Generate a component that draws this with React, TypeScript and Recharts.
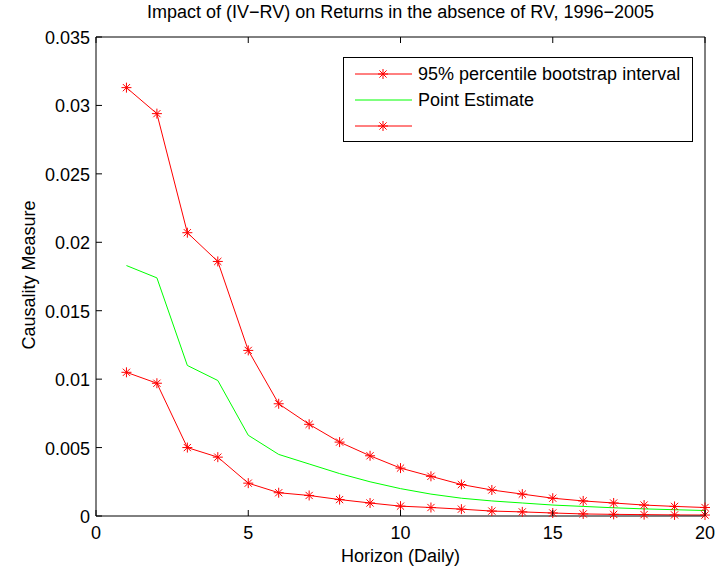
import React from "react";
import { LineChart, Line, XAxis, YAxis } from "recharts";

const horizons = [1, 2, 3, 4, 5, 6, 7, 8, 9, 10, 11, 12, 13, 14, 15, 16, 17, 18, 19, 20];

const upperBound = [
  0.0313, 0.0294, 0.0207, 0.0186, 0.0121, 0.0082, 0.0067, 0.0054, 0.0044, 0.0035,
  0.0029, 0.0023, 0.0019, 0.0016, 0.0013, 0.0011, 0.00095, 0.0008, 0.0007, 0.00062,
];

const pointEstimate = [
  0.0183, 0.0174, 0.011, 0.0099, 0.0059, 0.0045, 0.0038, 0.0031, 0.0025, 0.002,
  0.0016, 0.0013, 0.0011, 0.00095, 0.0008, 0.0007, 0.0006, 0.00052, 0.00046, 0.0004,
];

const lowerBound = [
  0.0105, 0.0097, 0.005, 0.0043, 0.0024, 0.0017, 0.0015, 0.0012, 0.00095, 0.00072,
  0.00062, 0.0005, 0.00036, 0.0003, 0.00022, 0.00015, 0.00012, 0.0001, 0.00008, 0.00007,
];

const xTicks = [0, 5, 10, 15, 20];
const yTicks = [0, 0.005, 0.01, 0.015, 0.02, 0.025, 0.03, 0.035];

const legendLabels = ["95% percentile bootstrap interval", "Point Estimate", ""];

const data = horizons.map((h, i) => ({
  h,
  upper: upperBound[i],
  point: pointEstimate[i],
  lower: lowerBound[i],
}));

const FONT = '"Liberation Sans", Arial, Helvetica, sans-serif';
const RED = "#ff0000";
const GREEN = "#00ff00";
const FS = 18;

function Star({ cx, cy, r = 5 }: { cx: number; cy: number; r?: number }) {
  const d = r * 0.72;
  return (
    <g stroke={RED} strokeWidth={1}>
      <line x1={cx - r} y1={cy} x2={cx + r} y2={cy} />
      <line x1={cx} y1={cy - r} x2={cx} y2={cy + r} />
      <line x1={cx - d} y1={cy - d} x2={cx + d} y2={cy + d} />
      <line x1={cx - d} y1={cy + d} x2={cx + d} y2={cy - d} />
    </g>
  );
}

const starDot = (props: any) => (
  <Star key={`s-${props.dataKey}-${props.index}`} cx={props.cx} cy={props.cy} />
);

const fmt = (v: number) => (v === 0 ? "0" : String(+v.toFixed(3)));

const BottomTick = (props: any) => {
  const { x, y, payload } = props;
  return (
    <g>
      <line x1={x} y1={y} x2={x} y2={y - 6} stroke="#000" />
      <text x={x} y={y + 23} textAnchor="middle" fontSize={FS} fontFamily={FONT} fill="#000">
        {payload.value}
      </text>
    </g>
  );
};

const TopTick = (props: any) => {
  const { x, y } = props;
  return <line x1={x} y1={y} x2={x} y2={y + 6} stroke="#000" />;
};

const LeftTick = (props: any) => {
  const { x, y, payload } = props;
  return (
    <g>
      <line x1={x} y1={y} x2={x + 6} y2={y} stroke="#000" />
      <text x={x - 6} y={y + 7} textAnchor="end" fontSize={FS} fontFamily={FONT} fill="#000">
        {fmt(payload.value)}
      </text>
    </g>
  );
};

const RightTick = (props: any) => {
  const { x, y } = props;
  return <line x1={x} y1={y} x2={x - 6} y2={y} stroke="#000" />;
};

export default function App() {
  return (
    <div style={{ position: "absolute", left: 0, top: 0, width: 723, height: 571, background: "#fff", fontFamily: FONT }}>
      <LineChart width={723} height={571} data={data} margin={{ top: 0, right: 0, bottom: 0, left: 0 }}>
        <XAxis
          xAxisId="b"
          dataKey="h"
          type="number"
          domain={[0, 20]}
          ticks={xTicks}
          orientation="bottom"
          height={55}
          tickSize={0}
          tickMargin={0}
          tickLine={false}
          axisLine={{ stroke: "#000" }}
          tick={BottomTick}
          interval={0}
        />
        <XAxis
          xAxisId="t"
          dataKey="h"
          type="number"
          domain={[0, 20]}
          ticks={xTicks}
          orientation="top"
          height={37}
          tickSize={0}
          tickMargin={0}
          tickLine={false}
          axisLine={{ stroke: "#000" }}
          tick={TopTick}
          interval={0}
        />
        <YAxis
          yAxisId="l"
          type="number"
          domain={[0, 0.035]}
          ticks={yTicks}
          orientation="left"
          width={96}
          tickSize={0}
          tickMargin={0}
          tickLine={false}
          axisLine={{ stroke: "#000" }}
          tick={LeftTick}
          interval={0}
        />
        <YAxis
          yAxisId="r"
          type="number"
          domain={[0, 0.035]}
          ticks={yTicks}
          orientation="right"
          width={18}
          tickSize={0}
          tickMargin={0}
          tickLine={false}
          axisLine={{ stroke: "#000" }}
          tick={RightTick}
          interval={0}
        />
        <Line
          xAxisId="b"
          yAxisId="l"
          dataKey="upper"
          stroke={RED}
          strokeWidth={1}
          dot={starDot}
          isAnimationActive={false}
        />
        <Line
          xAxisId="b"
          yAxisId="l"
          dataKey="point"
          stroke={GREEN}
          strokeWidth={1}
          dot={false}
          isAnimationActive={false}
        />
        <Line
          xAxisId="b"
          yAxisId="l"
          dataKey="lower"
          stroke={RED}
          strokeWidth={1}
          dot={starDot}
          isAnimationActive={false}
        />
      </LineChart>

      <div style={{ position: "absolute", left: 0, width: 801, top: 2, textAlign: "center", fontSize: FS, color: "#000", whiteSpace: "nowrap" }}>
        Impact of (IV−RV) on Returns in the absence of RV, 1996−2005
      </div>
      <div style={{ position: "absolute", left: 0, width: 801, top: 546, textAlign: "center", fontSize: FS, color: "#000" }}>
        Horizon (Daily)
      </div>
      <div
        style={{
          position: "absolute",
          left: 29,
          top: 275,
          transform: "translate(-50%, -50%) rotate(-90deg)",
          fontSize: FS,
          color: "#000",
          whiteSpace: "nowrap",
        }}
      >
        Causality Measure
      </div>

      <div
        style={{
          position: "absolute",
          left: 343,
          top: 57,
          width: 350,
          height: 85,
          border: "1px solid #000",
          background: "#fff",
          boxSizing: "border-box",
        }}
      >
        {legendLabels.map((label, i) => (
          <div key={i} style={{ position: "absolute", left: 0, top: 5 + i * 26, height: 22, display: "flex", alignItems: "center" }}>
            <svg width={70} height={22} style={{ display: "block" }}>
              <line x1={11} y1={11} x2={68} y2={11} stroke={i === 1 ? GREEN : RED} strokeWidth={1} />
              {i !== 1 && <Star cx={39} cy={11} />}
            </svg>
            <span style={{ fontSize: FS, color: "#000", marginLeft: 4, whiteSpace: "nowrap" }}>{label}</span>
          </div>
        ))}
      </div>
    </div>
  );
}
